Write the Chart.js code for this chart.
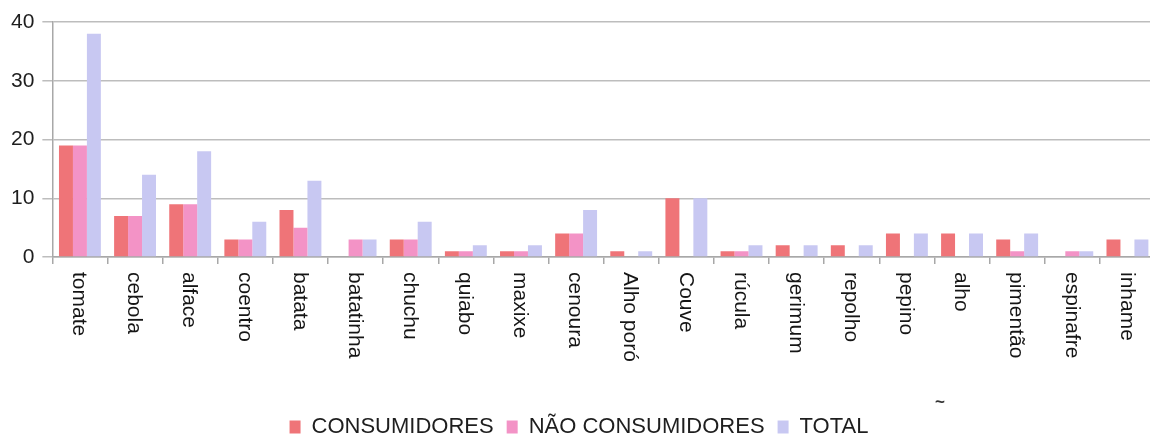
<!DOCTYPE html>
<html lang="pt">
<head>
<meta charset="utf-8">
<title>Hortaliças</title>
<script src="https://cdn.jsdelivr.net/npm/chart.js@4.4.1/dist/chart.umd.min.js"></script>
<style>
  html, body { margin: 0; padding: 0; background: #fff; overflow: hidden; }
  #wrap { position: relative; width: 1160px; height: 448px; }
</style>
</head>
<body>
<div id="wrap"><canvas id="chart"></canvas></div>
<script>
// Hortaliças citadas por consumidores e não consumidores
const categories = ['tomate', 'cebola', 'alface', 'coentro', 'batata', 'batatinha', 'chuchu',
  'quiabo', 'maxixe', 'cenoura', 'Alho poró', 'Couve', 'rúcula', 'gerimum', 'repolho',
  'pepino', 'alho', 'pimentão', 'espinafre', 'inhame'];
const consumidores    = [19, 7, 9, 3, 8, 0, 3, 1, 1, 4, 1, 10, 1, 2, 2, 4, 4, 3, 0, 3];
const naoConsumidores = [19, 7, 9, 3, 5, 3, 3, 1, 1, 4, 0, 0, 1, 0, 0, 0, 0, 1, 1, 0];
const total           = [38, 14, 18, 6, 13, 3, 6, 2, 2, 8, 1, 10, 2, 2, 2, 4, 4, 4, 1, 3];

const FONT = '"Liberation Sans", Arial, sans-serif';

const verticalLabels = {
  id: 'verticalLabels',
  afterDraw(chart) {
    const xs = chart.scales.x;
    const ctx = chart.ctx;
    ctx.save();
    ctx.font = '21px ' + FONT;
    ctx.fillStyle = '#151515';
    ctx.textAlign = 'left';
    ctx.textBaseline = 'middle';
    categories.forEach((label, i) => {
      ctx.save();
      ctx.translate(xs.getPixelForValue(i) - 1, xs.top + 15);
      ctx.rotate(Math.PI / 2);
      ctx.fillText(label, 0, 0);
      ctx.restore();
    });
    // small stray tilde next to the legend
    ctx.font = 'bold 17px ' + FONT;
    ctx.fillStyle = '#333';
    ctx.fillText('~', 935, 402);
    ctx.restore();
  }
};

new Chart(document.getElementById('chart'), {
  type: 'bar',
  data: {
    labels: categories,
    datasets: [
      { label: 'CONSUMIDORES', data: consumidores, backgroundColor: '#EF7478' },
      { label: 'NÃO CONSUMIDORES', data: naoConsumidores, backgroundColor: '#F393C6' },
      { label: 'TOTAL', data: total, backgroundColor: '#C8C8F2' }
    ]
  },
  options: {
    responsive: true,
    maintainAspectRatio: false,
    animation: false,
    datasets: { bar: { categoryPercentage: 0.76, barPercentage: 1.0 } },
    layout: { padding: { top: 22, left: 3, right: 5, bottom: 0 } },
    plugins: {
      legend: {
        position: 'bottom',
        labels: {
          font: { size: 22, family: FONT },
          color: '#1e1e1e',
          boxWidth: 11,
          boxHeight: 13,
          padding: 13
        }
      },
      tooltip: { enabled: false }
    },
    scales: {
      x: {
        grid: { drawOnChartArea: false, drawTicks: true, tickLength: 7, color: '#a8a8a8', lineWidth: 1.5 },
        border: { color: '#a8a8a8', width: 1.5 },
        ticks: { display: false },
        afterFit(scale) { scale.height = 146; }
      },
      y: {
        min: 0,
        max: 40,
        ticks: { stepSize: 10, font: { size: 21, family: FONT }, color: '#1e1e1e', padding: 8 },
        grid: { color: '#bdbdbd', lineWidth: 1.5, tickLength: 10 },
        border: { color: '#a8a8a8', width: 1.5 }
      }
    }
  },
  plugins: [verticalLabels]
});
</script>
</body>
</html>
